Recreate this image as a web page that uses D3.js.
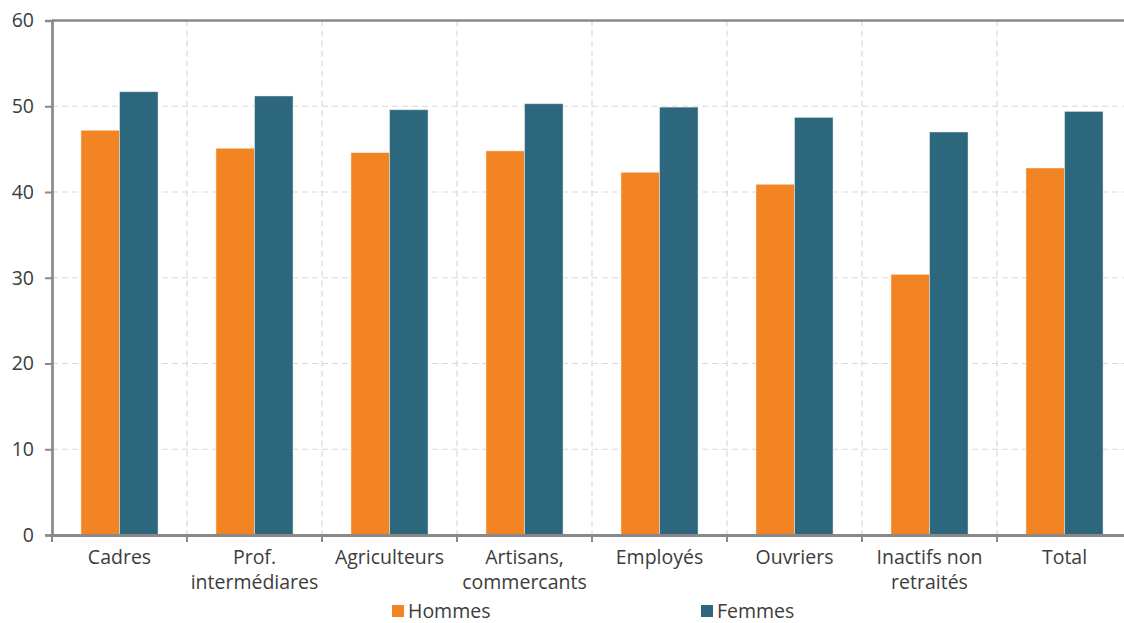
<!DOCTYPE html>
<html>
<head>
<meta charset="utf-8">
<script src="https://cdn.jsdelivr.net/npm/d3@7"></script>
<style>
  html, body { margin: 0; padding: 0; background: #fff; }
  svg { display: block; font-family: "Open Sans", sans-serif; }
</style>
</head>
<body>
<svg id="chart" width="1124" height="623"></svg>
<script>
// Categories (two-line labels split on "\n")
const categories = ["Cadres", "Prof.\nintermédiares", "Agriculteurs", "Artisans,\ncommercants",
                    "Employés", "Ouvriers", "Inactifs non\nretraités", "Total"];
const seriesNames = ["Hommes", "Femmes"];
const hommes = [47.2, 45.1, 44.6, 44.8, 42.3, 40.9, 30.4, 42.8];
const femmes = [51.7, 51.2, 49.6, 50.3, 49.9, 48.7, 47.0, 49.4];
const yTicks = [0, 10, 20, 30, 40, 50, 60];
const colors = ["#f28424", "#2d677d"];

const svg = d3.select("#chart");
const margin = { left: 52, top: 20.5, right: 1132, bottom: 535 };
const fontSize = "19.5px";

const x = d3.scaleBand().domain(categories).range([margin.left, margin.right]).paddingInner(0).paddingOuter(0);
const xs = d3.scaleBand().domain(seriesNames).range([0, x.bandwidth()]).paddingInner(0).paddingOuter(0.75);
const y = d3.scaleLinear().domain([0, 60]).range([margin.bottom, margin.top]);

const textColor = "#3c3c3c";
const axisColor = "#898989";

// Horizontal dashed gridlines
svg.append("g").selectAll("line").data(yTicks.filter(d => d > 0 && d < 60)).join("line")
  .attr("x1", margin.left).attr("x2", margin.right)
  .attr("y1", d => y(d)).attr("y2", d => y(d))
  .attr("stroke", "#d9d9d9").attr("stroke-width", 1.2).attr("stroke-dasharray", "6,4");

// Vertical dashed gridlines at category boundaries
svg.append("g").selectAll("line").data(categories.slice(1)).join("line")
  .attr("x1", d => x(d)).attr("x2", d => x(d))
  .attr("y1", margin.top).attr("y2", margin.bottom)
  .attr("stroke", "#d9d9d9").attr("stroke-width", 1.2).attr("stroke-dasharray", "6,4");

// Bars
const rows = categories.map((c, i) => ({ cat: c, values: [hommes[i], femmes[i]] }));
const groups = svg.append("g").selectAll("g").data(rows).join("g")
  .attr("transform", d => `translate(${x(d.cat)},0)`);
groups.selectAll("rect").data(d => d.values.map((v, j) => ({ name: seriesNames[j], v, j }))).join("rect")
  .attr("x", d => xs(d.name))
  .attr("width", xs.bandwidth())
  .attr("y", d => y(d.v))
  .attr("height", d => y(0) - y(d.v))
  .attr("fill", d => colors[d.j])
  .attr("stroke", "rgba(255,255,255,0.45)").attr("stroke-width", 1);

// Top frame line
svg.append("line")
  .attr("x1", margin.left).attr("x2", margin.right)
  .attr("y1", margin.top).attr("y2", margin.top)
  .attr("stroke", axisColor).attr("stroke-width", 2.5);

// Y axis
const yAxis = svg.append("g").attr("transform", `translate(${margin.left},0)`)
  .call(d3.axisLeft(y).tickValues(yTicks).tickSize(7).tickPadding(11));
yAxis.select(".domain").attr("stroke", axisColor).attr("stroke-width", 2.7);
yAxis.selectAll(".tick line").attr("stroke", axisColor).attr("stroke-width", 2);
yAxis.selectAll(".tick text").attr("fill", textColor).style("font-size", fontSize).style("font-family", "Open Sans");

// X axis
const xAxis = svg.append("g").attr("transform", `translate(0,${margin.bottom})`)
  .call(d3.axisBottom(x).tickSize(0).tickFormat(""));
xAxis.select(".domain").attr("stroke", axisColor).attr("stroke-width", 3);
svg.append("g").selectAll("line").data(categories).join("line")
  .attr("x1", d => x(d)).attr("x2", d => x(d))
  .attr("y1", margin.bottom).attr("y2", margin.bottom + 7)
  .attr("stroke", axisColor).attr("stroke-width", 2);

// Category labels
const labels = svg.append("g").selectAll("text").data(categories).join("text")
  .attr("x", d => x(d) + x.bandwidth() / 2)
  .attr("y", 564)
  .attr("text-anchor", "middle")
  .attr("fill", textColor)
  .style("font-size", fontSize);
labels.selectAll("tspan").data(d => d.split("\n")).join("tspan")
  .attr("x", function () { return d3.select(this.parentNode).attr("x"); })
  .attr("dy", (d, i) => i === 0 ? 0 : 25)
  .text(d => d);

// Legend
const legendX = [392, 701];
const legend = svg.append("g").selectAll("g").data(seriesNames).join("g")
  .attr("transform", (d, i) => `translate(${legendX[i]},605)`);
legend.append("rect").attr("width", 12).attr("height", 12).attr("fill", (d, i) => colors[i]);
legend.append("text").attr("x", 16).attr("y", 12.5).attr("fill", textColor)
  .style("font-size", fontSize).text(d => d);
</script>
</body>
</html>
